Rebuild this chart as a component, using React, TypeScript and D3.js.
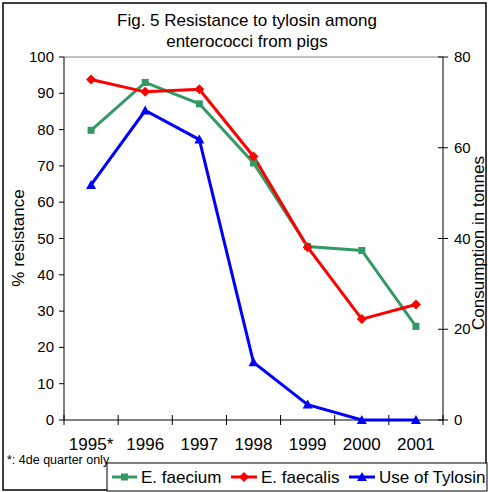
import React from "react";
import * as d3 from "d3";

const years = ["1995*", "1996", "1997", "1998", "1999", "2000", "2001"];
const faecium = [79.8, 93, 87.1, 70.8, 47.8, 46.7, 25.8];
const faecalis = [93.8, 90.4, 91.1, 72.6, 47.6, 27.8, 31.8];
const tylosin = [51.8, 68.2, 61.8, 12.7, 3.4, 0, 0];
const leftTicks = [0, 10, 20, 30, 40, 50, 60, 70, 80, 90, 100];
const rightTicks = [0, 20, 40, 60, 80];

const W = 488, H = 492;
const L = 64, R = 443, T = 57, B = 420;
const font = "Liberation Sans, Arial, sans-serif";

export default function App() {
  const x = d3.scaleBand().domain(years).range([L, R]).padding(0);
  const yl = d3.scaleLinear().domain([0, 100]).range([B, T]);
  const yr = d3.scaleLinear().domain([0, 80]).range([B, T]);
  const cx = (i: number) => (x(years[i]) as number) + x.bandwidth() / 2;
  const lineL = d3.line<number>().x((_, i) => cx(i)).y((d) => yl(d));
  const lineR = d3.line<number>().x((_, i) => cx(i)).y((d) => yr(d));
  const green = "#339966";
  const red = "#FF0000";
  const blue = "#0000FF";
  const bandEdges = years.map((y) => x(y) as number).concat([R]);

  const square = (px: number, py: number, c: string, k: string) => (
    <rect key={k} x={px - 3.5} y={py - 3.5} width={7} height={7} fill={c} />
  );
  const diamond = (px: number, py: number, c: string, k: string) => (
    <path key={k} d={`M${px},${py - 5}L${px + 5},${py}L${px},${py + 5}L${px - 5},${py}Z`} fill={c} />
  );
  const tri = (px: number, py: number, c: string, k: string) => (
    <path key={k} d={`M${px},${py - 5}L${px + 5},${py + 4}L${px - 5},${py + 4}Z`} fill={c} />
  );

  return (
    <svg width={W} height={H} style={{ position: "absolute", left: 0, top: 0 }} fontFamily={font}>
      <rect x={0} y={0} width={W} height={H} fill="#fff" />
      <rect x={3} y={3} width={483} height={487} fill="none" stroke="#000" strokeWidth={1.5} />
      <text x={247} y={26} textAnchor="middle" fontSize={17}>Fig. 5 Resistance to tylosin among</text>
      <text x={247} y={47} textAnchor="middle" fontSize={17}>enterococci from pigs</text>

      <line x1={L} x2={R} y1={T} y2={T} stroke="#808080" strokeWidth={1} />
      {/* left axis */}
      <line x1={L} x2={L} y1={T} y2={B} stroke="#000" />
      {leftTicks.map((t) => (
        <g key={"l" + t}>
          <line x1={L - 5} x2={L} y1={yl(t)} y2={yl(t)} stroke="#000" />
          <text x={L - 10} y={yl(t) + 5} textAnchor="end" fontSize={15}>{t}</text>
        </g>
      ))}
      {/* right axis */}
      <line x1={R} x2={R} y1={T} y2={B} stroke="#000" />
      {rightTicks.map((t) => (
        <g key={"r" + t}>
          <line x1={R - 5} x2={R + 5} y1={yr(t)} y2={yr(t)} stroke="#000" />
          <text x={R + 11} y={yr(t) + 5} textAnchor="start" fontSize={15}>{t}</text>
        </g>
      ))}
      {/* bottom axis */}
      <line x1={L} x2={R} y1={B} y2={B} stroke="#000" />
      {bandEdges.map((e, i) => (
        <line key={"b" + i} x1={e} x2={e} y1={B - 5} y2={B + 5} stroke="#000" />
      ))}
      {years.map((y, i) => (
        <text key={"x" + y} x={cx(i)} y={450} textAnchor="middle" fontSize={17}>{y}</text>
      ))}

      <text transform={`translate(24,238) rotate(-90)`} textAnchor="middle" fontSize={17}>% resistance</text>
      <text transform={`translate(484,243) rotate(-90)`} textAnchor="middle" fontSize={17}>Consumption in tonnes</text>

      <path d={lineL(faecium) || ""} fill="none" stroke={green} strokeWidth={3} />
      <path d={lineL(faecalis) || ""} fill="none" stroke={red} strokeWidth={3} />
      <path d={lineR(tylosin) || ""} fill="none" stroke={blue} strokeWidth={3} />
      {faecium.map((d, i) => square(cx(i), yl(d), green, "g" + i))}
      {faecalis.map((d, i) => diamond(cx(i), yl(d), red, "rd" + i))}
      {tylosin.map((d, i) => tri(cx(i), yr(d), blue, "t" + i))}

      <text x={7} y={464} fontSize={12.5}>*: 4de quarter only</text>

      <rect x={107} y={463} width={380} height={28} fill="#fff" stroke="#000" strokeWidth={1} />
      <line x1={112} x2={137} y1={477} y2={477} stroke={green} strokeWidth={3} />
      {square(124.5, 477, green, "lg")}
      <text x={141} y={483} fontSize={17}>E. faecium</text>
      <line x1={231} x2={257} y1={477} y2={477} stroke={red} strokeWidth={3} />
      {diamond(244, 477, red, "lr")}
      <text x={261} y={483} fontSize={17}>E. faecalis</text>
      <line x1={349} x2={375} y1={477} y2={477} stroke={blue} strokeWidth={3} />
      {tri(362, 477, blue, "lb")}
      <text x={379} y={483} fontSize={17}>Use of Tylosin</text>
    </svg>
  );
}
